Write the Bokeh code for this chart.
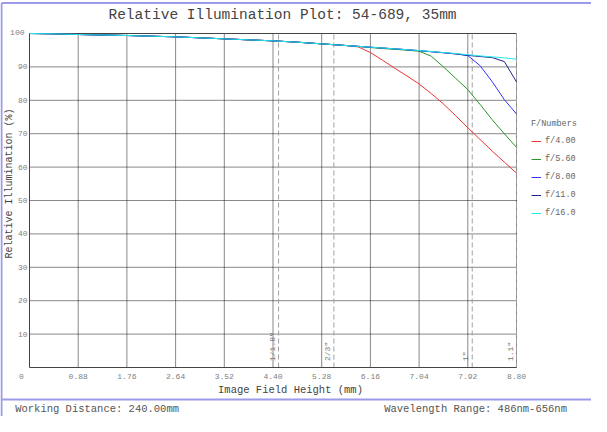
from math import pi
from bokeh.plotting import figure
from bokeh.models import Legend, LegendItem, ColumnDataSource
from bokeh.core.properties import value
from bokeh.embed import file_html
from bokeh.resources import INLINE

# ---------------- data ----------------
field_height = [0.00, 0.22, 0.44, 0.66, 0.88, 1.10, 1.32, 1.54, 1.76, 1.98,
                2.20, 2.42, 2.64, 2.86, 3.08, 3.30, 3.52, 3.74, 3.96, 4.18,
                4.40, 4.62, 4.84, 5.06, 5.28, 5.50, 5.72, 5.94, 6.16, 6.38,
                6.60, 6.82, 7.04, 7.26, 7.48, 7.70, 7.92, 8.14, 8.36, 8.58,
                8.80]

ri_f4 = [100.0, 99.95, 99.9, 99.8, 99.7, 99.62, 99.55, 99.48, 99.4, 99.3,
         99.2, 99.1, 99.0, 98.85, 98.7, 98.55, 98.4, 98.25, 98.1, 97.95,
         97.8, 97.6, 97.4, 97.15, 96.9, 96.65, 96.4, 96.0, 94.3, 92.0,
         89.6, 87.3, 84.9, 82.0, 78.9, 75.4, 71.8, 68.3, 64.8, 61.5,
         58.2]
ri_f56 = [100.0, 99.95, 99.9, 99.8, 99.7, 99.62, 99.55, 99.48, 99.4, 99.3,
          99.2, 99.1, 99.0, 98.85, 98.7, 98.55, 98.4, 98.25, 98.1, 97.95,
          97.8, 97.6, 97.4, 97.15, 96.9, 96.65, 96.4, 96.1, 95.8, 95.5,
          95.25, 95.0, 94.7, 93.2, 90.0, 86.6, 83.2, 78.8, 74.2, 70.0,
          65.9]
ri_f8 = [100.0, 99.95, 99.9, 99.8, 99.7, 99.62, 99.55, 99.48, 99.4, 99.3,
         99.2, 99.1, 99.0, 98.85, 98.7, 98.55, 98.4, 98.25, 98.1, 97.95,
         97.8, 97.6, 97.4, 97.15, 96.9, 96.65, 96.4, 96.15, 95.9, 95.65,
         95.4, 95.15, 94.85, 94.55, 94.25, 93.9, 93.4, 90.4, 85.6, 80.2,
         75.9]
ri_f11 = [100.0, 99.95, 99.9, 99.8, 99.7, 99.62, 99.55, 99.48, 99.4, 99.3,
          99.2, 99.1, 99.0, 98.85, 98.7, 98.55, 98.4, 98.25, 98.1, 97.95,
          97.8, 97.6, 97.4, 97.15, 96.9, 96.65, 96.4, 96.15, 95.9, 95.65,
          95.4, 95.15, 94.85, 94.55, 94.25, 93.9, 93.45, 93.1, 92.8, 91.6,
          85.5]
ri_f16 = [100.0, 99.95, 99.9, 99.8, 99.7, 99.62, 99.55, 99.48, 99.4, 99.3,
          99.2, 99.1, 99.0, 98.85, 98.7, 98.55, 98.4, 98.25, 98.1, 97.95,
          97.8, 97.6, 97.4, 97.15, 96.9, 96.65, 96.4, 96.15, 95.9, 95.65,
          95.4, 95.15, 94.9, 94.6, 94.3, 94.0, 93.65, 93.3, 93.0, 92.7,
          92.3]

series_labels = ["f/4.00", "f/5.60", "f/8.00", "f/11.0", "f/16.0"]
series_colors = ["#ee3333", "#2a962a", "#3535ff", "#22228e", "#20eaea"]

x_ticks = [0.88, 1.76, 2.64, 3.52, 4.40, 5.28, 6.16, 7.04, 7.92, 8.80]
x_tick_labels = ["0.88", "1.76", "2.64", "3.52", "4.40", "5.28", "6.16",
                 "7.04", "7.92", "8.80"]
y_ticks = [10, 20, 30, 40, 50, 60, 70, 80, 90]
y_tick_labels = ["10", "20", "30", "40", "50", "60", "70", "80", "90"]
x_min, x_max = 0.0, 8.8
y_min, y_max = 0.0, 100.0

sensor_names = ['1/1.8"', '2/3"', '1"', '1.1"']
sensor_half_diag = [4.5, 5.5, 8.0, 8.8]

title_text = "Relative Illumination Plot: 54-689, 35mm"
x_label = "Image Field Height (mm)"
y_label = "Relative Illumination (%)"
footer_left = "Working Distance: 240.00mm"
footer_right = "Wavelength Range: 486nm-656nm"

# ---------------- layout (pixels inside the figure) ----------------
FIG_W, FIG_H = 591, 416
FL, FR, FT, FB = 29, 516, 33, 367          # plot area edges
FONT = "Liberation Mono"


def dx(px):
    return x_min + (px - FL) / (FR - FL) * (x_max - x_min)


def dy(py):
    return y_min + (FB - py) / (FB - FT) * (y_max - y_min)


def pxw(n):   # width of n pixels in x data units
    return dx(FL + n) - dx(FL)


def pxh(n):   # height of n pixels in y data units
    return dy(FB - n) - dy(FB)


p = figure(width=FIG_W, height=FIG_H,
           x_range=(dx(0), dx(FIG_W)), y_range=(dy(FIG_H), dy(0)),
           output_backend="svg", toolbar_location=None,
           min_border=0, background_fill_color="white",
           border_fill_color="white", outline_line_color=None)
p.xaxis.visible = False
p.yaxis.visible = False
p.xgrid.visible = False
p.ygrid.visible = False

# ---- grid (dotted) ----
p.segment(x0=x_ticks, y0=[y_min] * len(x_ticks), x1=x_ticks,
          y1=[y_max] * len(x_ticks), line_color="#111111", line_width=1,
          line_dash="1 1")
p.segment(x0=[x_min] * len(y_ticks), y0=y_ticks, x1=[x_max] * len(y_ticks),
          y1=y_ticks, line_color="#111111", line_width=1, line_dash="1 1")

# ---- sensor size lines ----
p.segment(x0=sensor_half_diag, y0=[y_min] * 4, x1=sensor_half_diag,
          y1=[y_max] * 4, line_color="#a0a0a0", line_width=1,
          line_dash="5 3")
sensor_src = ColumnDataSource(dict(
    x=[s - pxw(2) for s in sensor_half_diag],
    y=[y_min + pxh(6.5)] * len(sensor_half_diag),
    t=sensor_names))
p.text(x="x", y="y", text="t", source=sensor_src, angle=pi / 2,
       text_align="left", text_baseline="bottom",
       text_font=value(FONT), text_font_size="8px", text_color="#777777")

# ---- axis lines (left, bottom) and top border line ----
p.segment(x0=[x_min, x_min, x_min], y0=[y_min, y_min, y_max],
          x1=[x_min, x_max, x_max], y1=[y_max, y_min, y_max],
          line_color="#444444", line_width=1)

# ---- tick labels ----
p.text(x=x_ticks, y=[y_min - pxh(8.5)] * len(x_ticks), text=x_tick_labels,
       text_align="center", text_baseline="middle", text_font=value(FONT),
       text_font_size="8px", text_color="#808080")
p.text(x=[x_min - pxw(2)] * len(y_ticks), y=y_ticks, text=y_tick_labels,
       text_align="right", text_baseline="middle", text_font=value(FONT),
       text_font_size="8px", text_color="#808080")
p.text(x=[x_min - pxw(5)], y=[y_max + pxh(1)], text=["100"],
       text_align="right", text_baseline="middle", text_font=value(FONT),
       text_font_size="8px", text_color="#808080")
p.text(x=[x_min - pxw(8)], y=[y_min - pxh(8.5)], text=["0"],
       text_align="center", text_baseline="middle", text_font=value(FONT),
       text_font_size="8px", text_color="#808080")

# ---- curves ----
curves = [ri_f4, ri_f56, ri_f8, ri_f11, ri_f16]
renderers = []
for ys, c in zip(curves, series_colors):
    r = p.line(field_height, ys, line_color=c, line_width=1)
    renderers.append(r)

legend = Legend(items=[LegendItem(label=l, renderers=[r])
                       for l, r in zip(series_labels, renderers)],
                location=(531, 198), title="F/Numbers",
                title_text_font=FONT, title_text_font_size="8.5px",
                title_text_color="#666666", title_text_font_style="normal",
                title_standoff=7,
                label_text_font=FONT, label_text_font_size="8.5px",
                label_text_color="#666666",
                glyph_width=10, glyph_height=10, label_height=10,
                label_standoff=4, spacing=8, padding=0, margin=0,
                border_line_alpha=0, background_fill_alpha=0)
p.add_layout(legend)

# ---- titles and footer ----
def add_text(text, px, py, size, color, align="left", angle=0.0):
    p.text(x=[dx(px)], y=[dy(py)], text=[text], text_font=value(FONT),
           text_font_size=size, text_color=color, text_align=align,
           text_baseline="middle", angle=angle)

add_text(title_text, 282, 14.7, "14.5px", "#444444", align="center")
add_text(x_label, 290, 389.5, "10.5px", "#444444", align="center")
add_text(y_label, 9, 183, "10px", "#444444", align="center", angle=pi / 2)
add_text(footer_left, 14.7, 408.5, "10.5px", "#555555")
add_text(footer_right, 383.7, 408.5, "10.5px", "#555555")

# ---- frame decoration lines ----
p.segment(x0=[dx(1), dx(1), dx(1)], y0=[dy(2.5), dy(2.5), dy(399)],
          x1=[dx(1), dx(FIG_W), dx(FIG_W)], y1=[dy(FIG_H), dy(2.5), dy(399)],
          line_color="#9b9bea", line_width=2)

open("out.html", "w").write(file_html(p, INLINE))
